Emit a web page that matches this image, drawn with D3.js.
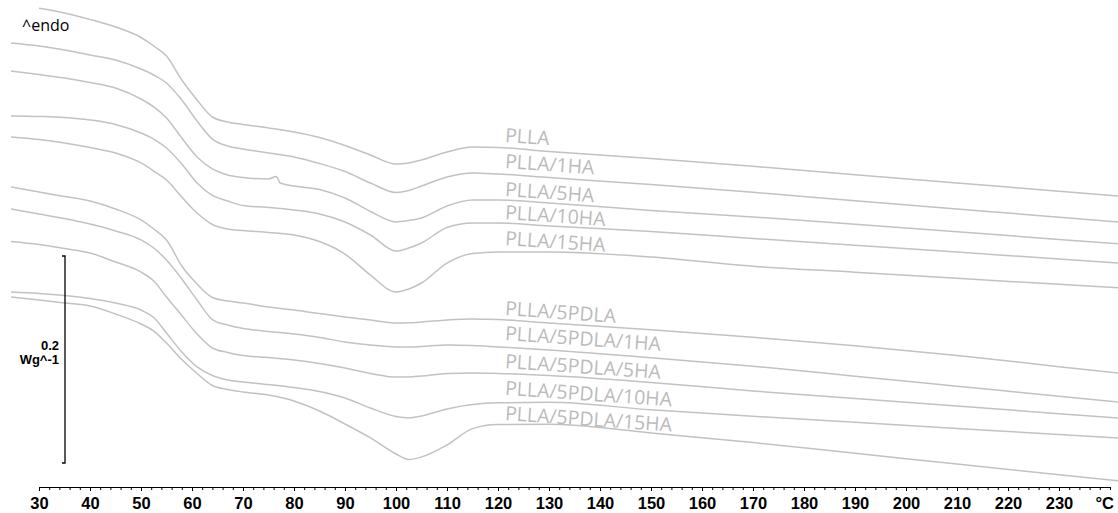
<!DOCTYPE html>
<html>
<head>
<meta charset="utf-8">
<script src="https://cdn.jsdelivr.net/npm/d3@7"></script>
<style>
  body { margin: 0; background: #fff; }
  svg { display: block; background: #fff; }
  .curve { fill: none; stroke: #c2c2c2; stroke-width: 1.5; }
  .label { font-family: "Open Sans", sans-serif; font-size: 19.5px; fill: #bbbbbb; }
  .axis text { font-family: "Liberation Sans", Arial, sans-serif; font-weight: bold; font-size: 16.5px; fill: #000; }
  .axis path, .axis line { stroke: #000; }
  .bar text { font-family: "Liberation Sans", Arial, sans-serif; font-weight: bold; font-size: 13px; }
</style>
</head>
<body>
<div id="chart"></div>
<script>
var svgWidth = 1118;
var svgHeight = 513;

var temps = [24.5, 30, 35, 40, 45, 50, 52.5, 55, 58, 61, 64, 67, 70, 75, 76.5, 77.3, 80, 85, 90, 95, 100,
             102.5, 105, 110, 115, 120, 130, 150, 170, 190, 210, 230, 242];

var names = ["PLLA", "PLLA/1HA", "PLLA/5HA", "PLLA/10HA", "PLLA/15HA",
             "PLLA/5PDLA", "PLLA/5PDLA/1HA", "PLLA/5PDLA/5HA", "PLLA/5PDLA/10HA", "PLLA/5PDLA/15HA"];

// heat flow, mW/g (endo up), curves shifted for display
var plla     = [null, 239.3, 234.8, 228.6, 221.3, 211.1, 202.9, 193.2, 170.1, 150.7, 134.3, 129.5, 127.1, 123.7, null, null, 119.8, 114.5, 106.8, 97.6, 88.9, 89.9, 92.8, 100.5, 105.3, 104.8, 101.0, 94.2, 86.7, 78.6, 70.6, 62.6, 57.8];
var plla1ha  = [205.8, 202.9, 199.0, 194.2, 189.4, 180.7, 174.9, 167.2, 150.7, 130.4, 113.0, 106.3, 103.4, 99.5, null, null, 95.7, 89.4, 81.6, 70.5, 61.4, 63.3, 67.6, 76.3, 80.2, 79.2, 75.8, 69.1, 61.5, 53.5, 45.5, 37.5, 32.7];
var plla5ha  = [178.7, 175.4, 172.0, 167.6, 162.3, 151.7, 144.0, 133.3, 114.0, 95.7, 84.1, 78.3, 75.8, 74.4, 76.8, 70.5, 67.6, 64.3, 56.0, 43.0, 32.9, 34.3, 36.7, 48.3, 54.1, 54.1, 51.2, 44.0, 37.8, 30.6, 23.4, 16.0, 11.7];
var plla10ha = [135.3, 134.8, 133.8, 131.4, 127.1, 118.8, 113.0, 104.3, 88.9, 70.5, 58.5, 53.1, 48.8, 46.9, null, null, 44.4, 40.6, 32.9, 20.3, 4.8, 7.7, 12.6, 27.5, 31.9, 31.9, 29.0, 23.7, 16.9, 10.3, 3.8, -2.9, -6.8];
var plla15ha = [115.0, 112.6, 109.2, 104.8, 99.5, 89.9, 82.1, 73.4, 57.0, 41.5, 30.4, 26.1, 24.6, 22.7, null, null, 20.3, 14.0, 1.9, -18.4, -34.8, -31.9, -26.1, -6.8, 2.4, 3.9, 3.9, -1.0, -9.9, -15.7, -21.5, -27.4, -30.9];
var pdla     = [66.7, 61.8, 57.5, 53.1, 45.4, 34.8, 26.1, 15.5, -9.7, -27.1, -40.1, -43.5, -45.4, -49.3, null, null, -52.2, -55.6, -58.9, -61.8, -64.7, -64.5, -63.8, -61.8, -60.9, -61.4, -64.7, -71.3, -78.6, -86.7, -96.1, -106.9, -113.2];
var pdla1ha  = [45.4, 40.6, 36.2, 30.9, 24.2, 15.5, 7.7, -3.9, -22.2, -42.5, -61.4, -66.7, -70.0, -72.9, null, null, -75.4, -78.7, -83.1, -86.0, -87.9, -87.9, -87.4, -86.0, -86.5, -87.9, -90.8, -98.2, -106.5, -116.1, -125.8, -135.5, -141.3];
var pdla5ha  = [14.0, 11.1, 7.2, 2.9, -5.8, -15.5, -24.2, -39.6, -57.5, -75.4, -88.9, -93.2, -96.1, -98.1, null, null, -100.5, -103.9, -108.2, -113.5, -116.9, -116.9, -115.9, -113.5, -113.0, -113.5, -115.5, -122.2, -130.4, -137.7, -145.0, -152.3, -156.6];
var pdla10ha = [-34.8, -36.2, -38.2, -41.1, -45.4, -52.2, -59.4, -74.4, -92.8, -107.2, -115.5, -119.8, -121.7, -124.2, null, null, -127.1, -130.9, -137.2, -146.9, -155.1, -156.5, -154.6, -147.8, -143.5, -141.8, -141.4, -148.6, -154.8, -160.7, -166.6, -172.5, -175.9];
var pdla15ha = [-39.6, -42.5, -45.4, -48.3, -56.0, -65.7, -72.5, -84.1, -100.0, -113.5, -125.1, -129.0, -131.4, -134.3, null, null, -140.1, -149.8, -162.3, -175.8, -191.3, -196.6, -194.2, -182.6, -166.8, -162.8, -162.6, -171.0, -180.3, -190.6, -201.0, -211.3, -217.4];

var majorTicks = [30, 40, 50, 60, 70, 80, 90, 100, 110, 120, 130, 140, 150, 160, 170, 180, 190, 200, 210, 220, 230];
var scaleBar = 200; // mW/g  (0.2 W/g)

var seriesValues = [plla, plla1ha, plla5ha, plla10ha, plla15ha, pdla, pdla1ha, pdla5ha, pdla10ha, pdla15ha];

// how far each name sits above its curve (px)
var labelGap = [5.5, 6, 4, 4, 7, 4.5, 7, 5.5, 8, 4.5];

var svg = d3.select("#chart")
  .append("svg")
  .attr("width", svgWidth)
  .attr("height", svgHeight);

var xScale = d3.scaleLinear()
  .domain([30, 240])
  .range([39, 1110]);

// 0.2 W/g bar is 207 px tall
var yScale = d3.scaleLinear()
  .domain([0, -200])
  .range([256, 463]);

var line = d3.line()
  .x(d => xScale(d[0]))
  .y(d => yScale(d[1]))
  .curve(d3.curveMonotoneX);

var series = seriesValues.map(function(vals, i) {
  return {
    name: names[i],
    points: temps.map((t, j) => [t, vals[j]]).filter(d => d[1] != null)
  };
});

svg.append("defs").append("clipPath").attr("id", "clip")
  .append("rect").attr("width", svgWidth).attr("height", svgHeight);

svg.append("g")
  .attr("clip-path", "url(#clip)")
  .selectAll("path")
  .data(series)
  .enter()
  .append("path")
  .attr("class", "curve")
  .attr("d", d => line(d.points));

// labels sit just above each curve at ~121 °C
var i120 = temps.indexOf(120);
svg.selectAll(".label")
  .data(series)
  .enter()
  .append("text")
  .attr("class", "label")
  .attr("transform", function(d, i) {
    var lx = xScale(121.3);
    var ly = yScale(seriesValues[i][i120]) - labelGap[i];
    return `translate(${lx}, ${ly}) rotate(4)`;
  })
  .text(d => d.name);

// x axis
var axisY = 487;
svg.append("g")
  .attr("class", "axis")
  .attr("transform", `translate(0, ${axisY})`)
  .call(d3.axisBottom(xScale)
    .tickValues(d3.range(30, 241, 2))
    .tickSize(3)
    .tickSizeOuter(0)
    .tickFormat(""));

svg.append("g")
  .attr("class", "axis")
  .attr("transform", `translate(0, ${axisY})`)
  .call(d3.axisBottom(xScale)
    .tickValues(majorTicks)
    .tickSize(4)
    .tickSizeOuter(0)
    .tickPadding(6.6)
    .tickFormat(d3.format("d")))
  .call(g => g.select(".domain").remove());

svg.append("text")
  .attr("x", 1114)
  .attr("y", 509.3)
  .attr("text-anchor", "end")
  .style("font-family", "'Liberation Sans', Arial, sans-serif")
  .style("font-weight", "bold")
  .style("font-size", "16.5px")
  .text("°C");

// scale bar
var bar = svg.append("g").attr("class", "bar");
var bx = xScale(35.1);
bar.append("path")
  .attr("d", `M${bx - 3},${yScale(0)}H${bx}V${yScale(-scaleBar)}H${bx - 3}`)
  .attr("fill", "none")
  .attr("stroke", "#000")
  .attr("stroke-width", 1.3);

bar.append("text")
  .attr("x", bx - 6)
  .attr("y", 349.5)
  .attr("text-anchor", "end")
  .text("0.2");

bar.append("text")
  .attr("x", bx - 6)
  .attr("y", 363.5)
  .attr("text-anchor", "end")
  .text("Wg^-1");

svg.append("text")
  .attr("x", 22)
  .attr("y", 31)
  .style("font-family", "'Open Sans', sans-serif")
  .style("font-size", "16px")
  .style("fill", "#000")
  .text("^endo");
</script>
</body>
</html>
